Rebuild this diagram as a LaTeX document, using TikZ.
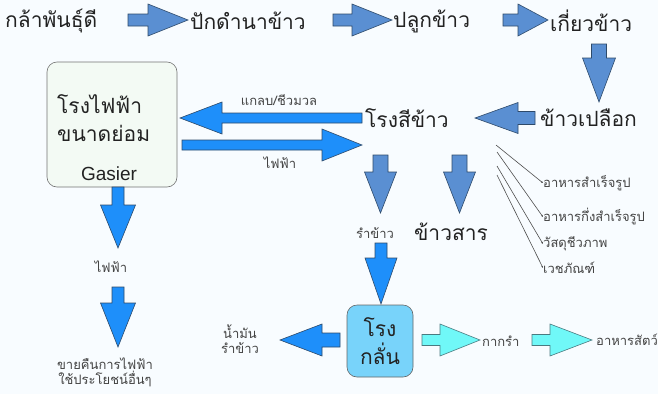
\documentclass[tikz,border=0pt]{standalone}
\usepackage{fontspec}
\setmainfont[Script=Thai]{Loma}
\newfontfamily\latinfont{Liberation Sans}
\usetikzlibrary{arrows.meta}
\definecolor{bgc}{HTML}{F8FCFF}
\definecolor{dblue}{HTML}{5A8FD2}
\definecolor{dline}{HTML}{2E4A6A}
\definecolor{bblue}{HTML}{1E8FFA}
\definecolor{cyanf}{HTML}{70F8F8}
\definecolor{cyanl}{HTML}{4A7A80}
\definecolor{boxg}{HTML}{F3FAF4}
\definecolor{oilf}{HTML}{78D3FA}
\definecolor{txt}{HTML}{222222}
\newcommand\HArrow[7]{\draw[#1] (#2,#5-#6) -- (#4,#5-#6) -- (#4,#5-#7) -- (#3,#5) -- (#4,#5+#7) -- (#4,#5+#6) -- (#2,#5+#6) -- cycle;}
\newcommand\VArrow[7]{\draw[#1] (#2-#6,#3) -- (#2-#6,#5) -- (#2-#7,#5) -- (#2,#4) -- (#2+#7,#5) -- (#2+#6,#5) -- (#2+#6,#3) -- cycle;}
\begin{document}
\begin{tikzpicture}[x=1pt,y=-1pt,
  darr/.style={fill=dblue,draw=dline,line width=0.6pt,line join=miter},
  barr/.style={fill=bblue,draw=dline,line width=0.6pt,line join=miter},
  carr/.style={fill=cyanf,draw=cyanl,line width=0.6pt,line join=miter},
  big/.style={font=\fontsize{21}{23}\selectfont,text=txt,inner sep=0pt},
  small/.style={font=\fontsize{13}{15}\selectfont,text=txt!85,inner sep=0pt,align=center},
  thin/.style={draw=txt!80,line width=0.6pt,-{Latex[length=2pt,width=2pt]}}]
\fill[bgc] (0,0) rectangle (658,394);
\useasboundingbox (0,0) rectangle (658,394);
% top row
\node[big,anchor=west] (kla) at (5,21) {กล้าพันธุ์ดี};
\node[big,anchor=west] (pak) at (190,21) {ปักดำนาข้าว};
\node[big,anchor=west] (pluk) at (393,21) {ปลูกข้าว};
\node[big,anchor=west] (kiao) at (550,21) {เกี่ยวข้าว};
\HArrow{darr}{128}{188}{148}{20}{6}{16}
\HArrow{darr}{333}{392}{352}{20}{6}{16}
\HArrow{darr}{503}{548}{518}{20}{6}{16}
\VArrow{darr}{599}{44}{102}{58}{7.5}{16.5}
% paddy and mill
\node[big,anchor=west] (plueak) at (540,118) {ข้าวเปลือก};
\node[big,anchor=west] (rongsi) at (365,118) {โรงสีข้าว};
\HArrow{darr}{535}{475}{518}{118}{6.5}{15.5}
% power plant box
\draw[fill=boxg,draw=black!55,line width=0.6pt,rounded corners=10pt] (47,62) rectangle (177,187);
\node[big,anchor=west,align=left] (pp) at (57,118) {โรงไฟฟ้า\\[5pt]ขนาดย่อม};
\node[font=\latinfont\fontsize{19}{21}\selectfont,text=txt,inner sep=0pt] (gas) at (109,174) {Gasier};
\HArrow{barr}{362}{180}{222}{118}{5}{16}
\HArrow{barr}{182}{362}{322}{145}{5}{16}
\node[small] (husk) at (279,100) {แกลบ/ชีวมวล};
\node[small] (elec1) at (280,163) {ไฟฟ้า};
% power outputs
\VArrow{barr}{118}{187}{248}{205}{6}{17.5}
\node[small] (elec2) at (111,267) {ไฟฟ้า};
\VArrow{barr}{118}{287}{347}{303}{6}{17.5}
\node[small] (sell) at (105,372) {ขายคืนการไฟฟ้า\\ใช้ประโยชน์อื่นๆ};
% mill outputs
\VArrow{darr}{380.5}{155}{213}{172}{7.5}{16}
\VArrow{darr}{459.5}{155}{213}{172}{7.5}{16}
\node[small] (bran) at (375,233) {รำข้าว};
\node[big] (rice) at (451,232) {ข้าวสาร};
\coordinate (l1) at (496,145);
\coordinate (l2) at (497,152);
\coordinate (l3) at (497,166);
\coordinate (l4) at (497,175);
\node[small,anchor=west] (f1) at (543,183) {อาหารสำเร็จรูป};
\node[small,anchor=west] (f2) at (543,217) {อาหารกึ่งสำเร็จรูป};
\node[small,anchor=west] (f3) at (543,244) {วัสดุชีวภาพ};
\node[small,anchor=west] (f4) at (543,268) {เวชภัณฑ์};
\draw[thin] (l1) -- (f1.west);
\draw[thin] (l2) -- (f2.west);
\draw[thin] (l3) -- (f3.west);
\draw[thin] (l4) -- (f4.west);
% oil refinery
\VArrow{barr}{381}{243}{304}{258}{6}{16}
\draw[fill=oilf,draw=black!60,line width=0.6pt,rounded corners=10pt] (347,305) rectangle (413,377);
\node[big,align=center] (oil) at (380,341) {โรง\\[5pt]กลั่น};
\HArrow{barr}{340}{280}{322}{340}{7}{16}
\node[small] (oilt) at (240,339) {น้ำมัน\\รำข้าว};
\HArrow{carr}{422}{480}{440}{340}{5.5}{16}
\node[small,anchor=west] (kak) at (482,341) {กากรำ};
\HArrow{carr}{532}{592}{550}{340}{5.5}{16}
\node[small,anchor=west] (feed) at (596,340) {อาหารสัตว์};
\end{tikzpicture}
\end{document}
